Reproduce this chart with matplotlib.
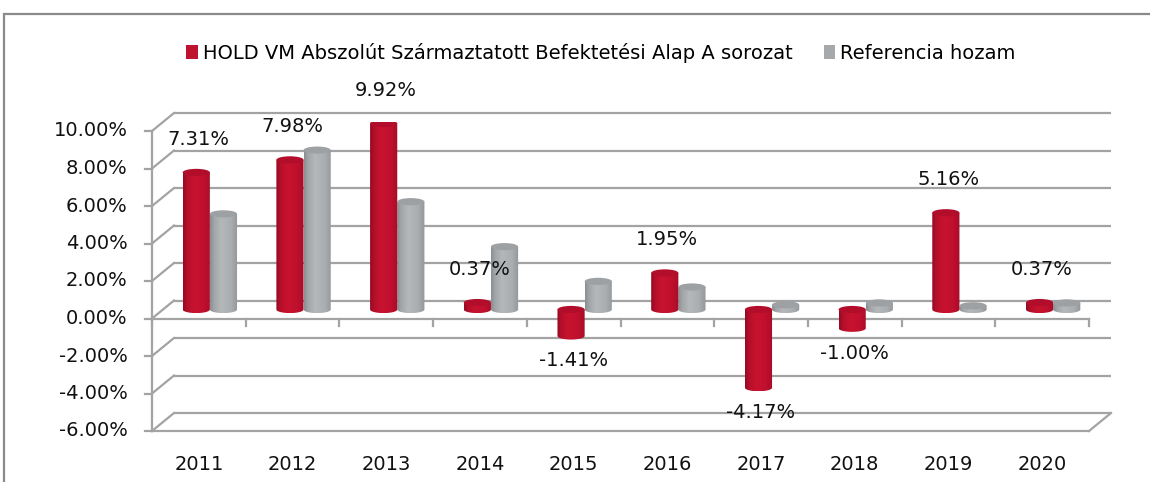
import numpy as np
import matplotlib
matplotlib.use("Agg")
from matplotlib import pyplot as plt
from matplotlib.patches import Ellipse, PathPatch, Patch, Rectangle
from matplotlib.path import Path
from matplotlib.colors import LinearSegmentedColormap

years = ["2011", "2012", "2013", "2014", "2015", "2016", "2017", "2018", "2019", "2020"]
fund = [7.31, 7.98, 9.92, 0.37, -1.41, 1.95, -4.17, -1.00, 5.16, 0.37]
benchmark = [5.1, 8.5, 5.75, 3.35, 1.5, 1.2, 0.25, 0.35, 0.2, 0.35]
fund_labels = ["7.31%", "7.98%", "9.92%", "0.37%", "-1.41%", "1.95%", "-4.17%", "-1.00%", "5.16%", "0.37%"]
series_names = ["HOLD VM Abszolút Származtatott Befektetési Alap A sorozat", "Referencia hozam"]
yticks = np.arange(-6, 11, 2)

GRID = "#a3a3a3"
RED_CMAP = LinearSegmentedColormap.from_list(
    "red", [(0, "#960a22"), (0.15, "#b40f2b"), (0.4, "#c8132f"), (0.75, "#c0102e"), (1, "#a60d27")])
GRAY_CMAP = LinearSegmentedColormap.from_list(
    "gray", [(0, "#8a8e90"), (0.15, "#a2a6a8"), (0.4, "#b4b8ba"), (0.75, "#aaaeb0"), (1, "#93979a")])
RED_TOP = "#b20e2b"
GRAY_TOP = "#9da1a3"

# depth offsets (front / back planes relative to bar plane), in data units
DX = 11 / 93.7
DY = 9 / 18.75
RY = 3.6 / 18.75
BAR_W = 0.29


def cylinder(ax, xc, v, cmap, top_color):
    xl, xr = xc - BAR_W / 2, xc + BAR_W / 2
    y0, y1 = min(0, v), max(0, v)
    t = np.linspace(np.pi, 2 * np.pi, 40)
    ex = xc + BAR_W / 2 * np.cos(t)
    ey = y0 + RY * np.sin(t)
    verts = [(xl, y1)] + list(zip(ex, ey)) + [(xr, y1), (xl, y1)]
    codes = [Path.MOVETO] + [Path.LINETO] * (len(verts) - 2) + [Path.CLOSEPOLY]
    body = PathPatch(Path(verts, codes), facecolor="none", edgecolor="none", transform=ax.transData)
    ax.add_patch(body)
    grad = np.linspace(0, 1, 128).reshape(1, -1)
    im = ax.imshow(grad, cmap=cmap, aspect="auto", extent=(xl, xr, y0 - RY, y1),
                   origin="lower", zorder=3, interpolation="bilinear")
    im.set_clip_path(body)
    ax.add_patch(Ellipse((xc, y1), BAR_W, 2 * RY, facecolor=top_color, edgecolor="none", zorder=4))


def main():
    plt.rcParams["font.family"] = ["DejaVu Sans"]
    fig = plt.figure(figsize=(11.5, 4.82), dpi=100)
    fig.patches.append(Rectangle((4 / 1150, -0.1), 1.2, 1.1 - 14 / 482, transform=fig.transFigure,
                                 facecolor="none", edgecolor="#8a8a8a", linewidth=1.6))

    ax = fig.add_axes([163 / 1150, 1 - 422 / 482, 937 / 1150, 300 / 482])
    ax.set_xlim(-0.5, len(years) - 0.5)
    ax.set_ylim(yticks[0], yticks[-1])
    ax.axis("off")

    x = np.arange(len(years))
    left, right = -0.5, len(years) - 0.5

    # back wall gridlines + left diagonals
    for yv in yticks:
        ax.plot([left + DX, right + DX], [yv + DY, yv + DY], color=GRID, lw=1.6, zorder=1,
                clip_on=False, solid_capstyle="butt")
        ax.plot([left - DX, left + DX], [yv - DY, yv + DY], color=GRID, lw=1.6, zorder=1, clip_on=False)
        ax.plot([left - DX - 0.075, left - DX], [yv - DY, yv - DY], color=GRID, lw=1.6, zorder=1, clip_on=False)
        ax.text(left - DX - 0.26, yv - DY, f"{yv:.2f}%", ha="right", va="center", fontsize=14,
                color="#111111")
    # front frame
    ax.plot([left - DX, left - DX], [yticks[0] - DY, yticks[-1] - DY], color=GRID, lw=1.6, zorder=1, clip_on=False)
    ax.plot([left - DX, right - DX], [yticks[0] - DY, yticks[0] - DY], color=GRID, lw=1.6, zorder=1, clip_on=False)
    ax.plot([right - DX, right + DX], [yticks[0] - DY, yticks[0] + DY], color=GRID, lw=1.6, zorder=1, clip_on=False)
    ax.plot([left - DX, right - DX], [-DY, -DY], color=GRID, lw=1.6, zorder=1, clip_on=False)
    for b in np.arange(left, right + 0.5, 1.0):
        ax.plot([b - DX, b - DX], [-DY, -DY - 0.4], color=GRID, lw=1.6, zorder=1, clip_on=False)

    for i in range(len(years)):
        cylinder(ax, x[i] + BAR_W / 2, benchmark[i], GRAY_CMAP, GRAY_TOP)
        cylinder(ax, x[i] - BAR_W / 2, fund[i], RED_CMAP, RED_TOP)

    for i, (v, lab) in enumerate(zip(fund, fund_labels)):
        off = 24 if v >= 0 else -18
        ax.annotate(lab, (x[i] - DX, v), xytext=(0, off), textcoords="offset points",
                    ha="center", va="center", fontsize=14, color="#111111", zorder=6,
                    annotation_clip=False)

    for i, yr in enumerate(years):
        ax.annotate(yr, (x[i] - DX, yticks[0] - DY), xytext=(0, -24), textcoords="offset points",
                    ha="center", va="center", fontsize=14, color="#111111", annotation_clip=False)

    handles = [Patch(facecolor="#be1330"), Patch(facecolor="#a6a9ab")]
    fig.legend(handles, series_names, loc="center", bbox_to_anchor=(601 / 1150, 1 - 53 / 482), ncol=2,
               frameon=False, fontsize=14, handlelength=0.6, handleheight=0.75, handletextpad=0.25,
               columnspacing=1.6, borderpad=0)

    fig.savefig("out.png", dpi=100)


if __name__ == '__main__':
    main()
